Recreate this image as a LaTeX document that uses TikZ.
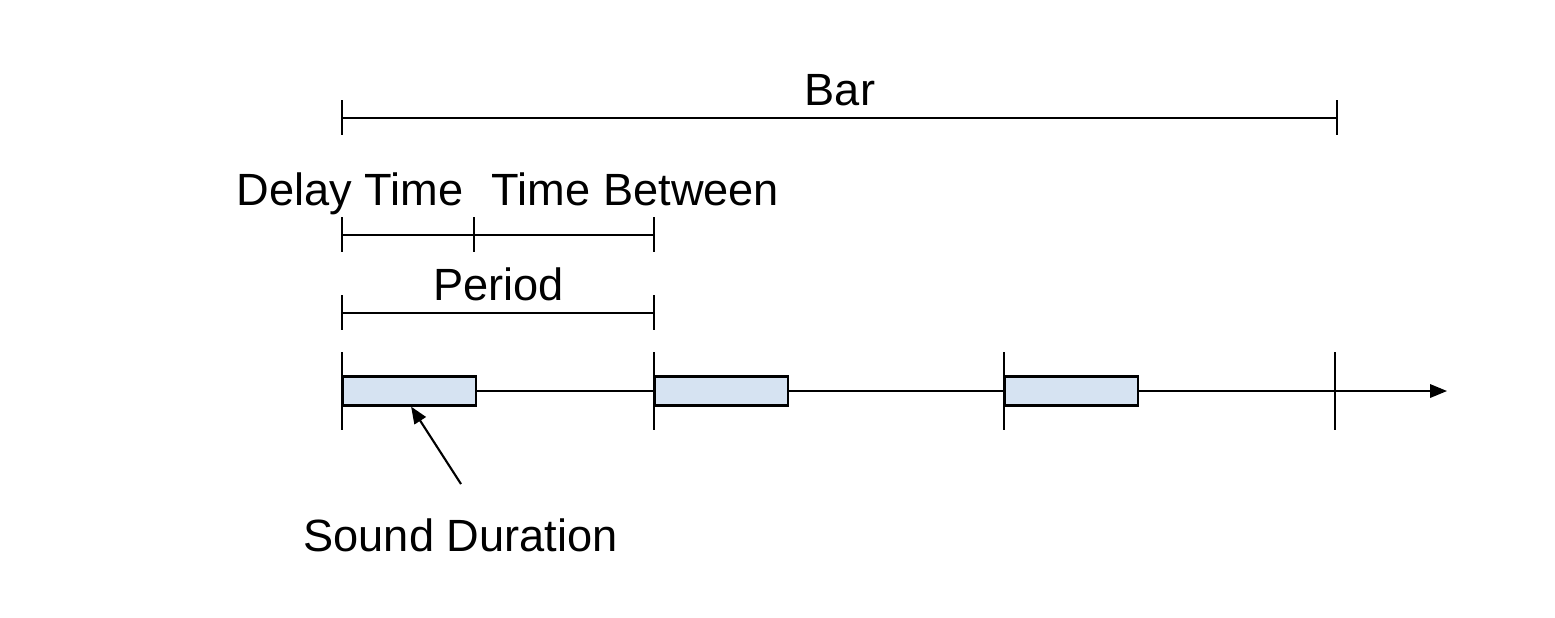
\documentclass[tikz,border=0pt]{standalone}
\usepackage{fontspec}
\setmainfont{Liberation Sans}
\usetikzlibrary{arrows.meta}
\definecolor{soundfill}{HTML}{D6E3F2}

\begin{document}
\begin{tikzpicture}[
    x=0.01cm, y=-0.01cm,
    lbl/.style={font=\fontsize{12.85}{15}\selectfont, inner sep=0pt, anchor=base},
    rule/.style={line width=0.6pt, color=black},
    sound/.style={rectangle, draw=black, line width=0.6pt, fill=soundfill, inner sep=0pt, minimum width=1.33cm, minimum height=0.29cm, anchor=west},
    arr/.style={-{Triangle[length=4.8pt, width=3.8pt]}, line width=0.6pt},
  ]
  \useasboundingbox (0,0) rectangle (1555,617);

  % Bar
  \node[lbl] (bar) at (840,105) {Bar};
  \coordinate (barL) at (342,118);
  \coordinate (barR) at (1337,118);
  \draw[rule] (barL) -- (barR);
  \foreach \p in {barL,barR}
    \draw[rule] (\p) ++(0,-18) -- ++(0,35);

  % Delay Time / Time Between
  \node[lbl] (delay) at (350,205) {Delay Time};
  \node[lbl] (between) at (635.5,205) {Time Between};
  \coordinate (dA) at (342,235);
  \coordinate (dB) at (474,235);
  \coordinate (dC) at (654,235);
  \draw[rule] (dA) -- (dB) -- (dC);
  \foreach \p in {dA,dB,dC}
    \draw[rule] (\p) ++(0,-18) -- ++(0,35);

  % Period
  \node[lbl] (period) at (498.5,300) {Period};
  \coordinate (pA) at (342,313);
  \coordinate (pB) at (654,313);
  \draw[rule] (pA) -- (pB);
  \foreach \p in {pA,pB}
    \draw[rule] (\p) ++(0,-18) -- ++(0,35);

  % Timeline
  \coordinate (t0) at (342,391);
  \coordinate (t1) at (654,391);
  \coordinate (t2) at (1004,391);
  \coordinate (t3) at (1335,391);
  \coordinate (tend) at (1447,391);
  \draw[rule, -{Triangle[length=4.8pt, width=3.8pt]}] (t0) -- (tend);
  \foreach \p in {t0,t1,t2,t3}
    \draw[rule] (\p) ++(0,-39) -- ++(0,78);
  \node[sound] (s1) at (t0) {};
  \node[sound] (s2) at (t1) {};
  \node[sound] (s3) at (t2) {};

  % Sound Duration
  \node[lbl] (soundlbl) at (460.5,551) {Sound Duration};
  \coordinate (sdtail) at (461,484);
  \draw[arr] (sdtail) -- ([xshift=0.015cm]s1.south);
\end{tikzpicture}
\end{document}
